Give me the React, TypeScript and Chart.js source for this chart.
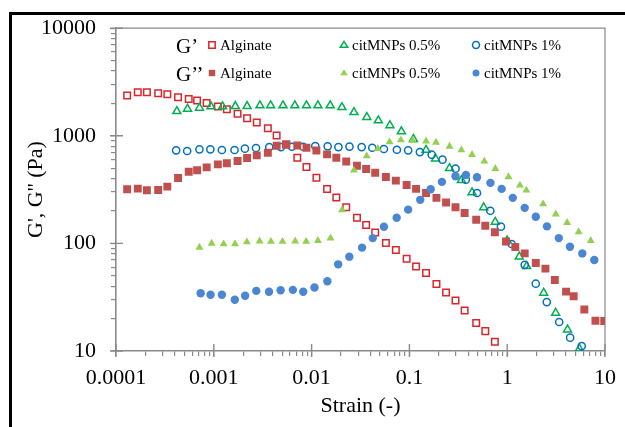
import React, { useEffect, useRef } from 'react';
import { Chart, registerables } from 'chart.js';

Chart.register(...registerables);

const FONT = "'Liberation Serif', 'Times New Roman', serif";

// Alginate strain sweep (shared strain steps for G' and G'')
const alginateStrain = [
  1.30e-4, 1.67e-4, 2.07e-4, 2.70e-4, 3.35e-4, 4.31e-4, 5.54e-4, 6.75e-4, 8.45e-4, 1.10e-3,
  1.36e-3, 1.75e-3, 2.19e-3, 2.75e-3, 3.57e-3, 4.39e-3, 5.50e-3, 7.14e-3, 8.86e-3, 1.12e-2,
  1.44e-2, 1.79e-2, 2.26e-2, 2.91e-2, 3.61e-2, 4.47e-2, 5.75e-2, 7.27e-2, 9.37e-2, 0.117,
  0.148, 0.189, 0.237, 0.296, 0.367, 0.482, 0.597, 0.748, 0.973, 1.21,
  1.51, 1.96, 2.46, 3.07, 4.00, 4.78, 6.15, 7.99, 9.82,
];
const alginateStorage = [
  2363, 2535, 2535, 2484, 2432, 2281, 2201, 2125, 2022, 1871,
  1767, 1600, 1459, 1328, 1177, 1007, 832, 626, 513, 408,
  321, 267, 217, 173, 148, 126, 101, 87, 72, 61,
  53, 42, 35, 29.4, 23.8, 18.2, 15.3, 12.2,
];
const alginateLoss = [
  319, 323, 312, 314, 337, 406, 464, 478, 509, 543,
  555, 583, 621, 658, 696, 808, 831, 813, 774, 731,
  672, 626, 578, 527, 491, 454, 414, 383, 349, 321,
  294, 265, 240, 217, 192, 166, 146, 127, 104, 92.6,
  80.8, 65.8, 58.3, 45.7, 35.6, 32.3, 24.3, 19.1, 19.0,
];

// citMNPs 0.5%
const mnp05StorageStrain = [
  4.19e-4, 5.39e-4, 7.14e-4, 9.35e-4, 1.23e-3, 1.66e-3, 2.19e-3, 2.96e-3, 3.81e-3, 5.10e-3,
  6.74e-3, 8.86e-3, 1.16e-2, 1.55e-2, 2.04e-2, 2.71e-2, 3.67e-2, 4.81e-2, 6.32e-2, 8.28e-2,
  0.110, 0.148, 0.185, 0.257, 0.340, 0.437, 0.575, 0.754, 1.0, 1.33,
  1.58, 2.36, 3.13, 4.14, 5.48,
];
const mnp05Storage = [
  1690, 1778, 1815, 1870, 1870, 1884, 1884, 1911, 1911, 1911,
  1911, 1911, 1911, 1911, 1842, 1655, 1489, 1388, 1248, 1097,
  931, 737, 613, 499, 386, 297, 216, 158, 106, 75.3,
  61.3, 34.7, 22.6, 15.8, 10.5,
];
const mnp05LossStrain = [
  7.13e-4, 9.51e-4, 1.26e-3, 1.65e-3, 2.18e-3, 2.94e-3, 3.84e-3, 5.04e-3, 6.79e-3, 8.79e-3,
  1.16e-2, 1.56e-2, 2.05e-2, 2.71e-2, 3.66e-2, 4.76e-2, 6.27e-2, 8.18e-2, 0.108, 0.148,
  0.187, 0.257, 0.340, 0.437, 0.584, 0.756, 1.03, 1.35, 1.57, 2.33,
  3.14, 4.10, 5.38, 7.14,
];
const mnp05Loss = [
  91.8, 100, 98.7, 98.7, 103, 105, 104, 104, 105, 104,
  106, 112, 205, 478, 649, 758, 875, 913, 907, 893,
  869, 798, 738, 667, 580, 495, 415, 347, 312, 232,
  187, 156, 128, 106,
];

// citMNPs 1%
const mnp1StorageStrain = [
  4.12e-4, 5.34e-4, 7.13e-4, 9.22e-4, 1.21e-3, 1.63e-3, 2.08e-3, 2.70e-3, 3.69e-3, 4.86e-3,
  6.29e-3, 8.19e-3, 1.09e-2, 1.46e-2, 1.88e-2, 2.44e-2, 3.25e-2, 4.17e-2, 5.49e-2, 7.45e-2,
  9.71e-2, 0.128, 0.169, 0.218, 0.296, 0.377, 0.491, 0.672, 0.863, 1.11,
  1.51, 1.96, 2.54, 3.40, 4.40, 5.78,
];
const mnp1Storage = [
  733, 722, 748, 748, 738, 738, 759, 770, 786, 786,
  791, 791, 803, 798, 786, 794, 786, 774, 754, 742,
  733, 706, 667, 600, 495, 391, 294, 201, 143, 98.7,
  63.2, 42.2, 28.5, 18.6, 13.3, 11.1,
];
const mnp1LossStrain = [
  7.34e-4, 9.27e-4, 1.21e-3, 1.64e-3, 2.09e-3, 2.72e-3, 3.67e-3, 4.82e-3, 6.43e-3, 8.21e-3,
  1.07e-2, 1.45e-2, 1.87e-2, 2.43e-2, 3.28e-2, 4.22e-2, 5.49e-2, 7.41e-2, 9.71e-2, 0.129,
  0.165, 0.215, 0.296, 0.378, 0.491, 0.674, 0.877, 1.14, 1.51, 1.96,
  2.55, 3.37, 4.38, 5.86, 7.77,
];
const mnp1Loss = [
  34.4, 33.3, 33.3, 29.9, 32.6, 36.2, 35.5, 36.7, 37.0, 35.5,
  38.9, 44.5, 63.9, 75.3, 91.3, 112, 143, 173, 206, 254,
  319, 373, 421, 433, 412, 365, 321, 265, 214, 177,
  144, 112, 93.2, 80.7, 70.2,
];

const xTickLabels = ['0.0001', '0.001', '0.01', '0.1', '1', '10'];
const yTickLabels = ['10', '100', '1000', '10000'];
const sampleNames = ['Alginate', 'citMNPs 0.5%', 'citMNPs 1%'];

const RED_OPEN = '#d9262c';
const RED_FILL = '#c0504d';
const GREEN_OPEN = '#00b050';
const GREEN_FILL = '#92d050';
const BLUE_OPEN = '#0070c0';
const BLUE_FILL = '#4a86d2';
const AXIS_GRAY = '#8a8a8a';

const zip = (xs: number[], ys: number[]) => ys.map((y, i) => ({ x: xs[i], y }));

const majorValues = (labels: string[]) => labels.map(Number);

// decade ticks plus 2..9 minor ticks inside each decade
function logTicks(labels: string[]) {
  const majors = majorValues(labels);
  const out: { value: number; major?: boolean }[] = [];
  majors.forEach((m, i) => {
    out.push({ value: m, major: true });
    if (i < majors.length - 1) {
      for (let k = 2; k <= 9; k++) out.push({ value: m * k });
    }
  });
  return out;
}

function labelFor(labels: string[]) {
  const majors = majorValues(labels);
  return (value: number | string) => {
    const v = Number(value);
    const i = majors.findIndex((m) => Math.abs(m - v) / m < 1e-6);
    return i >= 0 ? labels[i] : '';
  };
}

type Marker = 'rect' | 'triangle' | 'circle';

function drawMarker(
  ctx: CanvasRenderingContext2D,
  shape: Marker,
  x: number,
  y: number,
  r: number,
  filled: boolean,
  color: string,
) {
  ctx.beginPath();
  if (shape === 'rect') {
    ctx.rect(x - r, y - r, 2 * r, 2 * r);
  } else if (shape === 'circle') {
    ctx.arc(x, y, r, 0, Math.PI * 2);
  } else {
    const h = r * 1.5;
    ctx.moveTo(x, y - h * 0.62);
    ctx.lineTo(x + r * 0.95, y + h * 0.38);
    ctx.lineTo(x - r * 0.95, y + h * 0.38);
    ctx.closePath();
  }
  if (filled) {
    ctx.fillStyle = color;
    ctx.fill();
  } else {
    ctx.lineWidth = 1.5;
    ctx.strokeStyle = color;
    ctx.stroke();
  }
}

const frameAndTicks = {
  id: 'frameAndTicks',
  beforeDatasetsDraw(chart: any) {
    const { ctx, chartArea } = chart;
    const { left, top, right, bottom } = chartArea;
    ctx.save();
    ctx.strokeStyle = AXIS_GRAY;
    ctx.lineWidth = 1.2;
    ctx.beginPath();
    ctx.moveTo(left, top);
    ctx.lineTo(right, top);
    ctx.lineTo(right, bottom);
    ctx.stroke();

    // decade ticks cross the axis lines
    ctx.lineWidth = 1.4;
    ctx.beginPath();
    majorValues(yTickLabels).forEach((v) => {
      const py = chart.scales.y.getPixelForValue(v);
      ctx.moveTo(left - 6, py);
      ctx.lineTo(left + 7, py);
    });
    majorValues(xTickLabels).forEach((v) => {
      const px = chart.scales.x.getPixelForValue(v);
      ctx.moveTo(px, bottom - 7);
      ctx.lineTo(px, bottom + 6);
    });
    ctx.stroke();
    ctx.restore();
  },
};

const legendRows: { title: string; y: number; filled: boolean }[] = [
  { title: 'G\u2019', y: 45, filled: false },
  { title: 'G\u2019\u2019', y: 73, filled: true },
];
const legendColumns: { x: number; shape: Marker; open: string; fill: string }[] = [
  { x: 212, shape: 'rect', open: RED_OPEN, fill: RED_FILL },
  { x: 344, shape: 'triangle', open: GREEN_OPEN, fill: GREEN_FILL },
  { x: 476, shape: 'circle', open: BLUE_OPEN, fill: BLUE_FILL },
];

const panelLegend = {
  id: 'panelLegend',
  afterDraw(chart: any) {
    const { ctx } = chart;
    ctx.save();
    ctx.textBaseline = 'middle';
    ctx.textAlign = 'left';
    legendRows.forEach((row) => {
      ctx.fillStyle = '#000';
      ctx.font = `21px ${FONT}`;
      ctx.fillText(row.title, 176, row.y + 2);
      legendColumns.forEach((col, i) => {
        const r = col.shape === 'rect' ? 3.2 : col.shape === 'circle' ? 3.5 : 4;
        drawMarker(ctx, col.shape, col.x, row.y, r, row.filled, row.filled ? col.fill : col.open);
        ctx.fillStyle = '#000';
        ctx.font = `15px ${FONT}`;
        ctx.fillText(sampleNames[i], col.x + 8, row.y + 1);
      });
    });
    ctx.restore();
  },
};

const HOLLOW = 'rgba(0,0,0,0)';

export default function App() {
  const canvasRef = useRef<HTMLCanvasElement | null>(null);

  useEffect(() => {
    if (!canvasRef.current) return;
    const datasets = [
      {
        label: 'G\u2019\u2019 citMNPs 1%',
        data: zip(mnp1LossStrain, mnp1Loss),
        pointStyle: 'circle',
        pointRadius: 4.2,
        pointBackgroundColor: BLUE_FILL,
        pointBorderColor: BLUE_FILL,
        pointBorderWidth: 0,
      },
      {
        label: 'G\u2019\u2019 citMNPs 0.5%',
        data: zip(mnp05LossStrain, mnp05Loss),
        pointStyle: 'triangle',
        pointRadius: 4.6,
        pointBackgroundColor: GREEN_FILL,
        pointBorderColor: GREEN_FILL,
        pointBorderWidth: 0,
      },
      {
        label: 'G\u2019\u2019 Alginate',
        data: zip(alginateStrain, alginateLoss),
        pointStyle: 'rect',
        pointRadius: 5.6,
        pointBackgroundColor: RED_FILL,
        pointBorderColor: RED_FILL,
        pointBorderWidth: 0,
      },
      {
        label: 'G\u2019 citMNPs 1%',
        data: zip(mnp1StorageStrain, mnp1Storage),
        pointStyle: 'circle',
        pointRadius: 3.6,
        pointBackgroundColor: HOLLOW,
        pointBorderColor: BLUE_OPEN,
        pointBorderWidth: 1.5,
      },
      {
        label: 'G\u2019 citMNPs 0.5%',
        data: zip(mnp05StorageStrain, mnp05Storage),
        pointStyle: 'triangle',
        pointRadius: 4.6,
        pointBackgroundColor: HOLLOW,
        pointBorderColor: GREEN_OPEN,
        pointBorderWidth: 1.5,
      },
      {
        label: 'G\u2019 Alginate',
        data: zip(alginateStrain, alginateStorage),
        pointStyle: 'rect',
        pointRadius: 4.6,
        pointBackgroundColor: HOLLOW,
        pointBorderColor: RED_OPEN,
        pointBorderWidth: 1.5,
      },
    ];

    const chart = new Chart(canvasRef.current, {
      type: 'scatter',
      data: { datasets: datasets as any },
      options: {
        responsive: false,
        animation: false,
        devicePixelRatio: 1,
        layout: { padding: { top: 26, right: 19, left: 0, bottom: 0 } },
        plugins: {
          legend: { display: false },
          tooltip: { enabled: false },
        },
        scales: {
          x: {
            type: 'logarithmic',
            min: 1e-4,
            max: 10,
            afterBuildTicks: (scale: any) => {
              scale.ticks = logTicks(xTickLabels);
            },
            afterFit: (scale: any) => {
              scale.height = 76;
            },
            ticks: {
              autoSkip: false,
              maxRotation: 0,
              minRotation: 0,
              padding: 9,
              color: '#000',
              font: { family: FONT, size: 22 },
              callback: labelFor(xTickLabels),
            },
            grid: {
              drawOnChartArea: false,
              drawTicks: true,
              tickLength: 5,
              color: AXIS_GRAY,
              lineWidth: 1.2,
            },
            border: { display: true, color: AXIS_GRAY, width: 1.6 },
            title: {
              display: true,
              text: 'Strain (-)',
              color: '#000',
              font: { family: FONT, size: 22 },
              padding: { top: 0, bottom: 8 },
            },
          },
          y: {
            type: 'logarithmic',
            min: 10,
            max: 10000,
            afterBuildTicks: (scale: any) => {
              scale.ticks = logTicks(yTickLabels);
            },
            afterFit: (scale: any) => {
              scale.width = 116;
            },
            ticks: {
              autoSkip: false,
              padding: 15,
              color: '#000',
              font: { family: FONT, size: 22 },
              callback: labelFor(yTickLabels),
            },
            grid: {
              drawOnChartArea: false,
              drawTicks: true,
              tickLength: 5,
              color: AXIS_GRAY,
              lineWidth: 1.2,
            },
            border: { display: true, color: AXIS_GRAY, width: 1.6 },
            title: {
              display: true,
              text: "G', G'' (Pa)",
              color: '#000',
              font: { family: FONT, size: 22 },
              padding: { top: 23, bottom: 0 },
            },
          },
        },
      },
      plugins: [frameAndTicks, panelLegend],
    });

    return () => chart.destroy();
  }, []);

  return (
    <div
      style={{
        position: 'fixed',
        left: 0,
        top: 0,
        width: 625,
        height: 427,
        overflow: 'hidden',
        background: '#fff',
      }}
    >
      <div
        style={{
          position: 'absolute',
          left: 9,
          top: 12,
          width: 700,
          height: 500,
          borderLeft: '3px solid #000',
          borderTop: '3px solid #000',
        }}
      />
      <canvas
        ref={canvasRef}
        width={625}
        height={427}
        style={{ position: 'absolute', left: 0, top: 0, display: 'block' }}
      />
    </div>
  );
}
